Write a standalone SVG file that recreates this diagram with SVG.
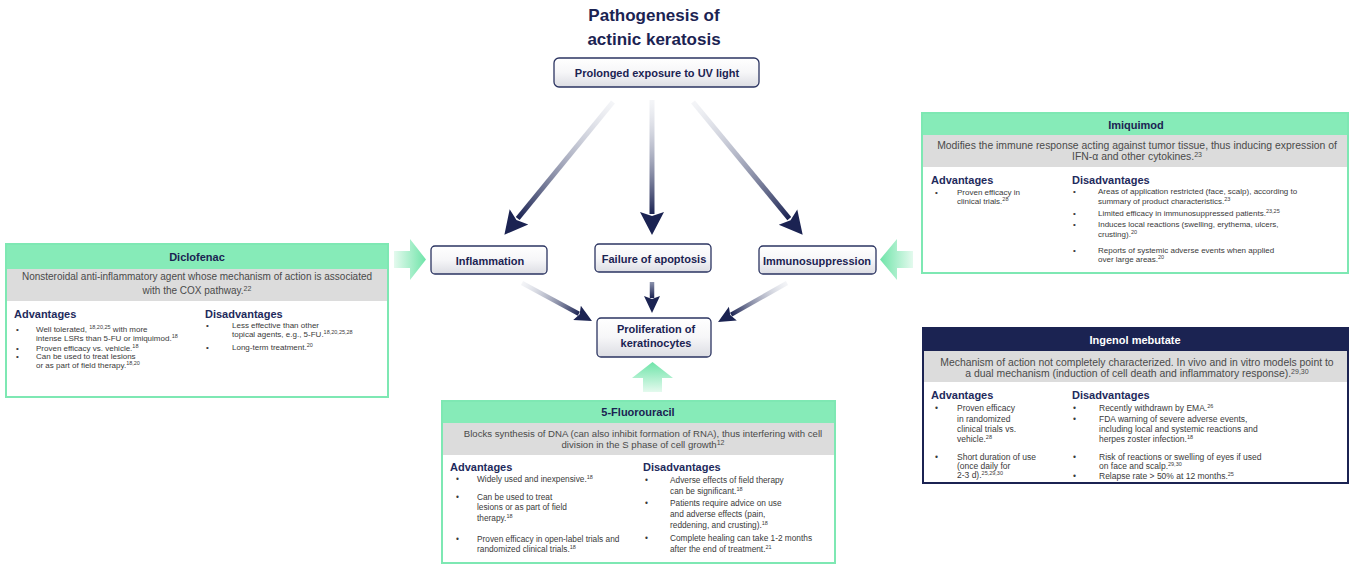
<svg xmlns="http://www.w3.org/2000/svg" width="1351" height="566" viewBox="0 0 1351 566">
<style>
text{font-family:"Liberation Sans",Arial,sans-serif}
.title{font-size:17px;font-weight:bold;fill:#1b2352;text-anchor:middle}
.node rect{fill:url(#nodeFill);stroke:#2b3461;stroke-width:1.3}
.nl{font-size:11px;font-weight:bold;fill:#1b2352;text-anchor:middle}
.gbox{fill:#fff;stroke:#7ee8b3;stroke-width:2}
.ghead{fill:#86ebb8}
.nbox{fill:#fff;stroke:#1b2352;stroke-width:2}
.nhead{fill:#1b2352}
.grey{fill:#dcdcdc}
.ht{font-size:11px;font-weight:bold;fill:#1b2352;text-anchor:middle}
.htw{font-size:11px;font-weight:bold;fill:#fff;text-anchor:middle}
.desc{font-size:10px;fill:#4a4a4a;text-anchor:middle}
.d2{font-size:10.4px}
.d3{font-size:9.6px}
.sh{font-size:11px;font-weight:bold;fill:#1e2a5c}
.b{font-size:8px;fill:#3a3a3a}
.b2{font-size:8.5px}
.b3{font-size:8.3px}
.sup{font-size:5.5px}
.supd{font-size:7px}
.shaft{fill:none;stroke-width:5}
.shaft2{fill:none;stroke-width:4.5}
</style>
<defs>
<linearGradient id="nodeFill" x1="0" y1="0" x2="0" y2="1">
<stop offset="0" stop-color="#ffffff"/><stop offset="0.5" stop-color="#f6f6f8"/><stop offset="1" stop-color="#dcdde3"/>
</linearGradient>
<marker id="headL" markerUnits="userSpaceOnUse" viewBox="0 -13 26 26" markerWidth="26" markerHeight="26" refX="2" refY="0" orient="auto">
<path d="M0,-12 L23,0 L0,12 L4,0 z" fill="#1b2352"/>
</marker>
<marker id="headS" markerUnits="userSpaceOnUse" viewBox="0 -10 20 20" markerWidth="20" markerHeight="20" refX="2" refY="0" orient="auto">
<path d="M0,-8 L17,0 L0,8 L3,0 z" fill="#1b2352"/>
</marker>
<linearGradient id="g1" gradientUnits="userSpaceOnUse" x1="613" y1="102" x2="518" y2="218"><stop offset="0" stop-color="#c9cedb" stop-opacity="0.2"/><stop offset="1" stop-color="#1b2352"/></linearGradient>
<linearGradient id="g2" gradientUnits="userSpaceOnUse" x1="652" y1="100" x2="652" y2="214"><stop offset="0" stop-color="#c9cedb" stop-opacity="0.2"/><stop offset="1" stop-color="#1b2352"/></linearGradient>
<linearGradient id="g3" gradientUnits="userSpaceOnUse" x1="693" y1="102" x2="789" y2="218"><stop offset="0" stop-color="#c9cedb" stop-opacity="0.2"/><stop offset="1" stop-color="#1b2352"/></linearGradient>
<linearGradient id="g4" gradientUnits="userSpaceOnUse" x1="522" y1="283" x2="579" y2="314"><stop offset="0" stop-color="#c9cedb" stop-opacity="0.2"/><stop offset="1" stop-color="#1b2352"/></linearGradient>
<linearGradient id="g5" gradientUnits="userSpaceOnUse" x1="652" y1="282" x2="652" y2="298"><stop offset="0" stop-color="#8c93ad"/><stop offset="1" stop-color="#1b2352"/></linearGradient>
<linearGradient id="g6" gradientUnits="userSpaceOnUse" x1="787" y1="283" x2="731" y2="315"><stop offset="0" stop-color="#c9cedb" stop-opacity="0.2"/><stop offset="1" stop-color="#1b2352"/></linearGradient>
<linearGradient id="grR" gradientUnits="userSpaceOnUse" x1="394" y1="0" x2="426" y2="0"><stop offset="0" stop-color="#e4faee"/><stop offset="1" stop-color="#6fe4a9"/></linearGradient>
<linearGradient id="grL" gradientUnits="userSpaceOnUse" x1="913" y1="0" x2="880" y2="0"><stop offset="0" stop-color="#e4faee"/><stop offset="1" stop-color="#6fe4a9"/></linearGradient>
<linearGradient id="grU" gradientUnits="userSpaceOnUse" x1="0" y1="392" x2="0" y2="362"><stop offset="0" stop-color="#e4faee"/><stop offset="1" stop-color="#6fe4a9"/></linearGradient>
</defs>
<rect width="1351" height="566" fill="#fff"/>

<g id="title">
<text class="title" x="654" y="21">Pathogenesis of</text>
<text class="title" x="654" y="45">actinic keratosis</text>
</g>

<g id="connectors">
<path class="shaft" stroke="url(#g1)" d="M613,102 L517.7,218.5" marker-end="url(#headL)"/>
<path class="shaft" stroke="url(#g2)" d="M652,100 L652,214" marker-end="url(#headL)"/>
<path class="shaft" stroke="url(#g3)" d="M693,102 L789.3,218.6" marker-end="url(#headL)"/>
<path class="shaft2" stroke="url(#g4)" d="M522,283 L578.8,313.8" marker-end="url(#headS)"/>
<path class="shaft2" stroke="url(#g5)" d="M652,282 L652,298" marker-end="url(#headS)"/>
<path class="shaft2" stroke="url(#g6)" d="M787,283 L731.1,314.6" marker-end="url(#headS)"/>
<path fill="url(#grR)" d="M394,251 L410,251 L410,239 L426,259.5 L410,280 L410,268 L394,268 z"/>
<path fill="url(#grL)" d="M913,251 L897,251 L897,239 L880,259.5 L897,280 L897,268 L913,268 z"/>
<path fill="url(#grU)" d="M643,392 L643,378 L632,378 L652.5,362 L673,378 L662,378 L662,392 z"/>
</g>

<g id="uv" class="node">
<rect x="554" y="58" width="205" height="29" rx="5"/>
<text class="nl" x="657" y="77">Prolonged exposure to UV light</text>
</g>
<g id="inflammation" class="node">
<rect x="431" y="246" width="116" height="28" rx="4"/>
<text class="nl" x="490" y="265">Inflammation</text>
</g>
<g id="apoptosis" class="node">
<rect x="595" y="244" width="116" height="28" rx="4"/>
<text class="nl" x="654" y="263">Failure of apoptosis</text>
</g>
<g id="immunosuppression" class="node">
<rect x="759" y="246" width="117" height="28" rx="4"/>
<text class="nl" x="817" y="265">Immunosuppression</text>
</g>
<g id="proliferation" class="node">
<rect x="597" y="318" width="114" height="39" rx="4"/>
<text class="nl" x="656" y="333">Proliferation of</text>
<text class="nl" x="656" y="347">keratinocytes</text>
</g>

<g id="diclofenac">
<rect class="gbox" x="6" y="244" width="382" height="153"/>
<rect class="ghead" x="7" y="245" width="380" height="24"/>
<rect class="grey" x="7" y="269" width="380" height="32"/>
<text class="ht" x="197" y="261">Diclofenac</text>
<text class="desc" x="197" y="280">Nonsteroidal anti-inflammatory agent whose mechanism of action is associated</text>
<text class="desc" x="197" y="294">with the COX pathway.<tspan class="supd" dy="-3">22</tspan></text>
<text class="sh" x="14" y="318">Advantages</text>
<text class="b" x="16" y="332">•</text>
<text class="b" x="36" y="332">Well tolerated, <tspan class="sup" dy="-3">18,20,25</tspan><tspan dy="3"> with more</tspan></text>
<text class="b" x="36" y="341">intense LSRs than 5-FU or imiquimod.<tspan class="sup" dy="-3">18</tspan></text>
<text class="b" x="16" y="351">•</text>
<text class="b" x="36" y="351">Proven efficacy vs. vehicle.<tspan class="sup" dy="-3">18</tspan></text>
<text class="b" x="16" y="359">•</text>
<text class="b" x="36" y="359">Can be used to treat lesions</text>
<text class="b" x="36" y="368">or as part of field therapy.<tspan class="sup" dy="-3">18,20</tspan></text>
<text class="sh" x="205" y="318">Disadvantages</text>
<text class="b" x="206" y="328">•</text>
<text class="b" x="232" y="328">Less effective than other</text>
<text class="b" x="232" y="337">topical agents, e.g., 5-FU.<tspan class="sup" dy="-3">18,20,25,28</tspan></text>
<text class="b" x="206" y="350">•</text>
<text class="b" x="232" y="350">Long-term treatment.<tspan class="sup" dy="-3">20</tspan></text>
</g>

<g id="imiquimod">
<rect class="gbox" x="922" y="113" width="426" height="160"/>
<rect class="ghead" x="923" y="114" width="424" height="21"/>
<rect class="grey" x="923" y="135" width="424" height="32"/>
<text class="ht" x="1136" y="129">Imiquimod</text>
<text class="desc d2" x="1137" y="149">Modifies the immune response acting against tumor tissue, thus inducing expression of</text>
<text class="desc d2" x="1137" y="160">IFN-α and other cytokines.<tspan class="supd" dy="-3">23</tspan></text>
<text class="sh" x="931" y="184">Advantages</text>
<text class="b" x="935" y="195">•</text>
<text class="b" x="957" y="195">Proven efficacy in</text>
<text class="b" x="957" y="204">clinical trials.<tspan class="sup" dy="-3">28</tspan></text>
<text class="sh" x="1072" y="184">Disadvantages</text>
<text class="b" x="1073" y="194">•</text>
<text class="b" x="1098" y="194">Areas of application restricted (face, scalp), according to</text>
<text class="b" x="1098" y="204">summary of product characteristics.<tspan class="sup" dy="-3">23</tspan></text>
<text class="b" x="1073" y="216">•</text>
<text class="b" x="1098" y="216">Limited efficacy in immunosuppressed patients.<tspan class="sup" dy="-3">23,25</tspan></text>
<text class="b" x="1073" y="227">•</text>
<text class="b" x="1098" y="227">Induces local reactions (swelling, erythema, ulcers,</text>
<text class="b" x="1098" y="237">crusting).<tspan class="sup" dy="-3">20</tspan></text>
<text class="b" x="1073" y="253">•</text>
<text class="b" x="1098" y="253">Reports of systemic adverse events when applied</text>
<text class="b" x="1098" y="262">over large areas.<tspan class="sup" dy="-3">20</tspan></text>
</g>

<g id="ingenol">
<rect class="nbox" x="923" y="328" width="425" height="155"/>
<rect class="nhead" x="924" y="329" width="423" height="22"/>
<rect class="grey" x="924" y="351" width="423" height="31"/>
<text class="htw" x="1135" y="344">Ingenol mebutate</text>
<text class="desc d2" x="1137" y="366">Mechanism of action not completely characterized. In vivo and in vitro models point to</text>
<text class="desc d2" x="1137" y="377">a dual mechanism (induction of cell death and inflammatory response).<tspan class="supd" dy="-3">29,30</tspan></text>
<text class="sh" x="931" y="399">Advantages</text>
<text class="b b2" x="935" y="411">•</text>
<text class="b b2" x="957" y="411">Proven efficacy</text>
<text class="b b2" x="957" y="422">in randomized</text>
<text class="b b2" x="957" y="432">clinical trials vs.</text>
<text class="b b2" x="957" y="442">vehicle.<tspan class="sup" dy="-3">28</tspan></text>
<text class="b b2" x="935" y="460">•</text>
<text class="b b2" x="957" y="460">Short duration of use</text>
<text class="b b2" x="957" y="469">(once daily for</text>
<text class="b b2" x="957" y="478">2-3 d).<tspan class="sup" dy="-3">25,29,30</tspan></text>
<text class="sh" x="1072" y="399">Disadvantages</text>
<text class="b b2" x="1073" y="411">•</text>
<text class="b b2" x="1099" y="411">Recently withdrawn by EMA.<tspan class="sup" dy="-3">26</tspan></text>
<text class="b b2" x="1073" y="422">•</text>
<text class="b b2" x="1099" y="422">FDA warning of severe adverse events,</text>
<text class="b b2" x="1099" y="432">including local and systemic reactions and</text>
<text class="b b2" x="1099" y="442">herpes zoster infection.<tspan class="sup" dy="-3">18</tspan></text>
<text class="b b2" x="1073" y="460">•</text>
<text class="b b2" x="1099" y="460">Risk of reactions or swelling of eyes if used</text>
<text class="b b2" x="1099" y="469">on face and scalp.<tspan class="sup" dy="-3">29,30</tspan></text>
<text class="b b2" x="1073" y="479">•</text>
<text class="b b2" x="1099" y="479">Relapse rate &gt; 50% at 12 months.<tspan class="sup" dy="-3">25</tspan></text>
</g>

<g id="fluorouracil">
<rect class="gbox" x="442" y="401" width="393" height="162"/>
<rect class="ghead" x="443" y="402" width="391" height="21"/>
<rect class="grey" x="443" y="423" width="391" height="32"/>
<text class="ht" x="638" y="416">5-Fluorouracil</text>
<text class="desc d3" x="643" y="437">Blocks synthesis of DNA (can also inhibit formation of RNA), thus interfering with cell</text>
<text class="desc d3" x="643" y="448">division in the S phase of cell growth<tspan class="supd" dy="-3">12</tspan></text>
<text class="sh" x="450" y="471">Advantages</text>
<text class="b b3" x="456" y="482">•</text>
<text class="b b3" x="477" y="482">Widely used and inexpensive.<tspan class="sup" dy="-3">18</tspan></text>
<text class="b b3" x="456" y="500">•</text>
<text class="b b3" x="477" y="500">Can be used to treat</text>
<text class="b b3" x="477" y="510">lesions or as part of field</text>
<text class="b b3" x="477" y="521">therapy.<tspan class="sup" dy="-3">18</tspan></text>
<text class="b b3" x="456" y="542">•</text>
<text class="b b3" x="477" y="542">Proven efficacy in open-label trials and</text>
<text class="b b3" x="477" y="552">randomized clinical trials.<tspan class="sup" dy="-3">18</tspan></text>
<text class="sh" x="643" y="471">Disadvantages</text>
<text class="b b3" x="645" y="483">•</text>
<text class="b b3" x="670" y="483">Adverse effects of field therapy</text>
<text class="b b3" x="670" y="494">can be significant.<tspan class="sup" dy="-3">18</tspan></text>
<text class="b b3" x="645" y="506">•</text>
<text class="b b3" x="670" y="506">Patients require advice on use</text>
<text class="b b3" x="670" y="517">and adverse effects (pain,</text>
<text class="b b3" x="670" y="528">reddening, and crusting).<tspan class="sup" dy="-3">18</tspan></text>
<text class="b b3" x="645" y="541">•</text>
<text class="b b3" x="670" y="541">Complete healing can take 1-2 months</text>
<text class="b b3" x="670" y="552"> after the end of treatment.<tspan class="sup" dy="-3">21</tspan></text>
</g>
</svg>
